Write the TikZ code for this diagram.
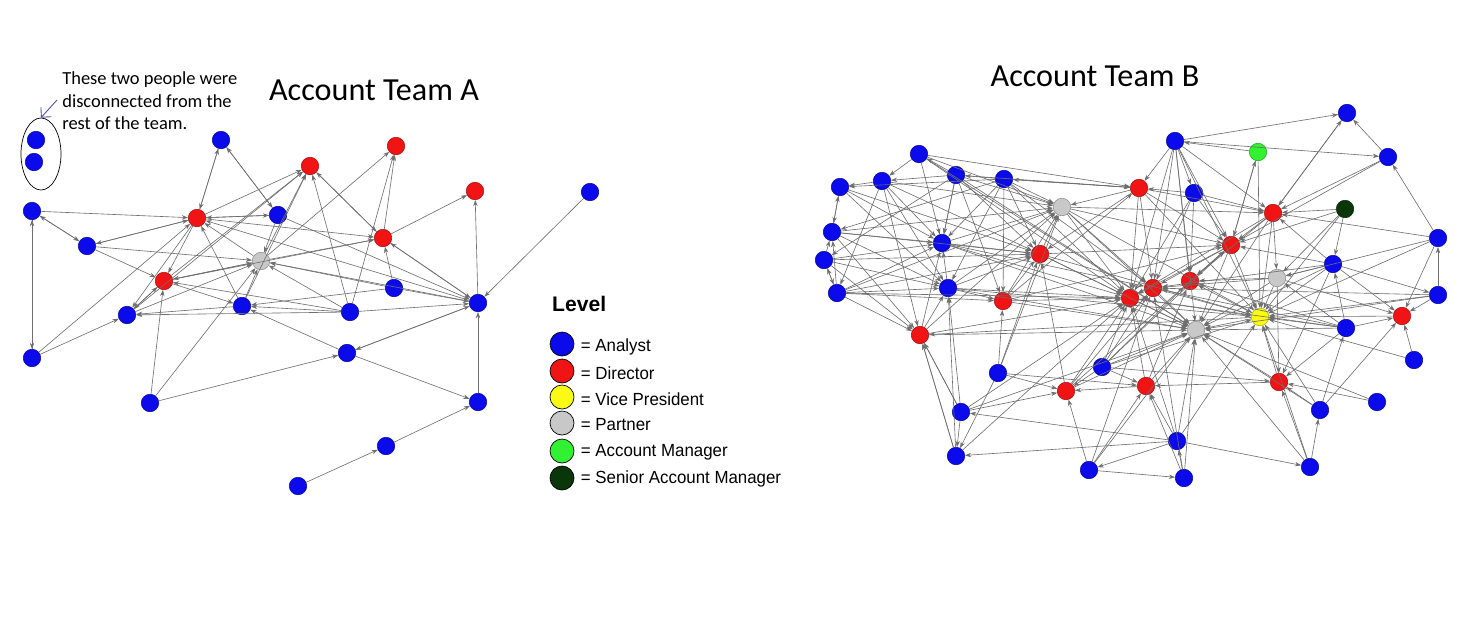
\documentclass[tikz,border=0pt]{standalone}
\usepackage{fontspec}
\setmainfont{Carlito}
\newfontfamily\arialf{Liberation Sans}
\usetikzlibrary{arrows.meta,shapes.geometric}
\definecolor{nblue}{RGB}{10,10,235}
\definecolor{nred}{RGB}{240,20,20}
\definecolor{ngray}{RGB}{200,200,200}
\definecolor{nyellow}{RGB}{250,250,20}
\definecolor{ngreen}{RGB}{50,240,50}
\definecolor{ndark}{RGB}{10,55,10}
\definecolor{edgec}{RGB}{110,110,110}
\tikzset{
  nd/.style={circle,inner sep=0pt,minimum size=17.5*0.02cm,draw=#1!70!black,fill=#1,line width=0.3pt},
  B/.style={nd=nblue}, R/.style={nd=nred}, G/.style={nd=ngray}, Y/.style={nd=nyellow},
  GR/.style={nd=ngreen}, DG/.style={nd=ndark},
  edge/.style={draw=edgec,line width=0.35pt,-{Stealth[length=3.5pt,width=2.5pt]}},
  lg/.style={circle,inner sep=0pt,minimum size=24*0.02cm,draw=black,line width=0.4pt,fill=#1},
  lt/.style={anchor=west,font=\arialf\fontsize{10}{12}\selectfont,xscale=0.96}
}
\begin{document}
\begin{tikzpicture}[x=0.02cm,y=-0.02cm]
\useasboundingbox (0,0) rectangle (1470,643);
\fill[white] (0,0) rectangle (1470,643);
% titles
\node[font=\fontsize{18.3}{20}\selectfont] (tA) at (374,90) {Account Team A};
\node[font=\fontsize{18.3}{20}\selectfont] (tB) at (1095,76) {Account Team B};
\node[anchor=north west,align=left,font=\fontsize{10.5}{13}\selectfont,inner sep=0pt] (note) at (62,71) {These two people were\\disconnected from the\\rest of the team.};
% disconnected
\node[B] (d1) at (36,140) {};
\node[B] (d2) at (34,162) {};
\node[draw,ellipse,minimum width=40*0.02cm,minimum height=72*0.02cm,inner sep=0pt] (ell) at (41,154) {};
\coordinate (na) at (57,100);
\draw[draw=blue!40!gray,line width=0.5pt,-{Straight Barb[length=4pt]}] (na) -- (ell.north);
% Team A nodes
\node[B] (a1) at (221,140) {};
\node[R] (a2) at (310,166) {};
\node[R] (a3) at (396,146) {};
\node[R] (a4) at (475,191) {};
\node[B] (a5) at (590,192) {};
\node[B] (a6) at (32,211) {};
\node[R] (a7) at (197,218) {};
\node[B] (a8) at (278,215) {};
\node[R] (a9) at (383,238) {};
\node[B] (a10) at (87,246) {};
\node[G] (a11) at (261,261) {};
\node[R] (a12) at (164,281) {};
\node[B] (a13) at (394,288) {};
\node[B] (a14) at (127,315) {};
\node[B] (a15) at (242,306) {};
\node[B] (a16) at (350,312) {};
\node[B] (a17) at (478,303) {};
\node[B] (a18) at (32,358) {};
\node[B] (a19) at (347,353) {};
\node[B] (a20) at (150,403) {};
\node[B] (a21) at (478,402) {};
\node[B] (a22) at (386,446) {};
\node[B] (a23) at (298,486) {};
\foreach \s/\t in {a6/a7,a6/a10,a10/a6,a6/a18,a18/a6,a10/a7,a7/a10,a10/a11,a10/a12,a1/a7,a7/a1,a8/a7,a7/a8,a7/a2,a7/a9,a11/a7,a7/a12,a7/a14,a15/a7,a17/a7,a8/a1,a1/a8,a9/a2,a2/a9,a11/a2,a16/a2,a12/a2,a14/a2,a9/a3,a11/a3,a9/a4,a17/a4,a11/a9,a12/a9,a13/a9,a17/a9,a9/a17,a8/a11,a8/a17,a12/a11,a11/a12,a13/a11,a17/a11,a14/a11,a15/a11,a16/a11,a20/a11,a12/a15,a16/a12,a14/a12,a12/a14,a20/a12,a15/a14,a16/a14,a18/a14,a13/a15,a16/a15,a19/a15,a16/a17,a13/a17,a18/a7,a19/a17,a17/a19,a20/a19,a19/a21,a21/a17,a22/a21,a23/a22,a5/a17,a16/a3,a15/a2}
  \draw[edge] (\s) -- (\t);
% legend
\node[anchor=west,font=\arialf\bfseries\fontsize{12}{14}\selectfont] (lvl) at (546,304) {Level};
\node[lg=nblue] (l1) at (562,344) {};
\node[lg=nred] (l2) at (562,371) {};
\node[lg=nyellow] (l3) at (562,397) {};
\node[lg=ngray] (l4) at (562,423) {};
\node[lg=ngreen] (l5) at (562,451) {};
\node[lg=ndark] (l6) at (562,478) {};
\node[lt] (t1) at (575,347) {= Analyst};
\node[lt] (t2) at (575,373) {= Director};
\node[lt] (t3) at (575,399) {= Vice President};
\node[lt] (t4) at (575,425) {= Partner};
\node[lt] (t5) at (575,452) {= Account Manager};
\node[lt] (t6) at (575,479) {= Senior Account Manager};
% Team B nodes
\node[B] (b1) at (1347,113) {};
\node[B] (b2) at (1175,141) {};
\node[GR] (b3) at (1258,152) {};
\node[B] (b4) at (1388,157) {};
\node[B] (b5) at (919,154) {};
\node[B] (b6) at (840,187) {};
\node[B] (b7) at (882,181) {};
\node[B] (b8) at (956,175) {};
\node[B] (b9) at (1004,179) {};
\node[R] (b10) at (1139,188) {};
\node[B] (b11) at (1194,193) {};
\node[G] (b12) at (1062,207) {};
\node[R] (b13) at (1273,213) {};
\node[DG] (b14) at (1345,209) {};
\node[B] (b15) at (832,232) {};
\node[B] (b16) at (942,243) {};
\node[R] (b17) at (1231,245) {};
\node[R] (b18) at (1040,254) {};
\node[B] (b19) at (1438,238) {};
\node[B] (b20) at (824,260) {};
\node[B] (b21) at (1333,264) {};
\node[G] (b22) at (1277,278) {};
\node[R] (b23) at (1190,281) {};
\node[R] (b24) at (1153,288) {};
\node[B] (b25) at (837,293) {};
\node[B] (b26) at (948,288) {};
\node[R] (b27) at (1130,298) {};
\node[R] (b28) at (1003,301) {};
\node[B] (b29) at (1438,295) {};
\node[Y] (b30) at (1260,317) {};
\node[G] (b31) at (1196,330) {};
\node[R] (b32) at (1402,316) {};
\node[B] (b33) at (1346,328) {};
\node[R] (b34) at (920,335) {};
\node[B] (b35) at (1414,360) {};
\node[B] (b36) at (1102,367) {};
\node[B] (b37) at (998,373) {};
\node[R] (b38) at (1066,391) {};
\node[R] (b39) at (1146,386) {};
\node[R] (b40) at (1279,382) {};
\node[B] (b41) at (1377,402) {};
\node[B] (b42) at (1320,410) {};
\node[B] (b43) at (961,412) {};
\node[B] (b44) at (1177,441) {};
\node[B] (b45) at (956,456) {};
\node[B] (b46) at (1089,470) {};
\node[B] (b47) at (1184,478) {};
\node[B] (b48) at (1310,467) {};
\foreach \t in {b2,b5,b8,b12,b13,b17,b21,b24,b27,b28,b30,b33,b36,b38,b39,b40,b43,b44,b46,b16,b26,b42,b29,b22,b41,b34,b18,b47,b48}
  \draw[edge] (\t) -- (b31);
\foreach \t in {b2,b3,b13,b14,b17,b21,b22,b24,b27,b32,b33,b40,b42,b44,b36,b10,b12,b19,b29,b48,b35,b26,b18}
  \draw[edge] (\t) -- (b30);
\foreach \t in {b5,b9,b10,b12,b16,b18,b26,b28,b34,b36,b38,b39,b43,b44,b45,b17,b13,b2,b11,b33,b25}
  \draw[edge] (\t) -- (b27);
\foreach \t in {b10,b11,b12,b17,b2,b36,b38,b46,b22,b29,b21,b9,b47,b33,b16}
  \draw[edge] (\t) -- (b24);
\foreach \t in {b13,b17,b22,b36,b39,b2,b11,b33,b30}
  \draw[edge] (\t) -- (b23);
\foreach \t in {b2,b11,b12,b13,b3,b14,b10,b18,b38,b28,b4,b21,b36}
  \draw[edge] (\t) -- (b17);
\foreach \t in {b1,b2,b10,b14,b4,b11,b12,b19,b21}
  \draw[edge] (\t) -- (b13);
\foreach \t in {b5,b7,b8,b9,b16,b18,b26,b10,b28,b34,b37,b25,b15}
  \draw[edge] (\t) -- (b12);
\foreach \t in {b6,b7,b8,b9,b16,b15,b20,b25,b26,b10,b38,b37,b28}
  \draw[edge] (\t) -- (b18);
\foreach \t in {b2,b5,b9,b11,b8,b28}
  \draw[edge] (\t) -- (b10);
\foreach \t in {b6,b7,b8,b9,b15,b20,b25,b26,b34,b5}
  \draw[edge] (\t) -- (b16);
\foreach \t in {b7,b9,b15,b20,b25,b34,b43,b45,b6}
  \draw[edge] (\t) -- (b26);
\foreach \t in {b8,b9,b26,b25,b37}
  \draw[edge] (\t) -- (b28);
\foreach \t in {b7,b15,b20,b25,b43,b45,b30}
  \draw[edge] (\t) -- (b34);
\foreach \t in {b36,b43,b39,b46,b37}
  \draw[edge] (\t) -- (b38);
\foreach \t in {b36,b40,b44,b47,b37,b46}
  \draw[edge] (\t) -- (b39);
\foreach \t in {b33,b42,b41,b48,b36,b22,b21}
  \draw[edge] (\t) -- (b40);
\foreach \t in {b29,b33,b19,b42,b21,b22,b35}
  \draw[edge] (\t) -- (b32);
\foreach \t in {b21,b19,b33,b14,b13}
  \draw[edge] (\t) -- (b22);
\foreach \s/\t in {b7/b6,b15/b6,b8/b7,b9/b8,b20/b15,b25/b20,b5/b7,b8/b5,b10/b9,b2/b1,b3/b2,b2/b4,b4/b1,b19/b4,b29/b19,b21/b29,b33/b21,b13/b1,b17/b3,b42/b33,b48/b42,b44/b48,b47/b44,b46/b47,b43/b45,b44/b43,b44/b45,b44/b46,b37/b45,b7/b25,b8/b20,b9/b15,b9/b6,b45/b34,b43/b34,b6/b15,b25/b15,b20/b25,b8/b16,b2/b11,b14/b21}
  \draw[edge] (\s) -- (\t);
\end{tikzpicture}
\end{document}
